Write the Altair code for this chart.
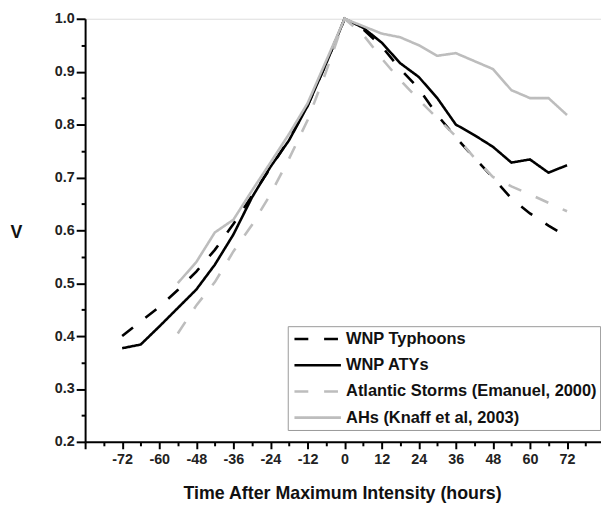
import altair as alt
import pandas as pd

hours = [-72, -66, -60, -54, -48, -42, -36, -30, -24, -18, -12, -6, 0,
         6, 12, 18, 24, 30, 36, 42, 48, 54, 60, 66, 72]

wnp_typhoons = [0.400, 0.428, 0.455, 0.487, 0.522, 0.563, 0.612, 0.665, 0.718, 0.772, 0.835, 0.915, 1.000,
                0.980, 0.948, 0.905, 0.868, 0.818, 0.776, 0.737, 0.700, 0.660, 0.632, 0.609, 0.588]
wnp_atys = [0.377, 0.384, 0.418, 0.453, 0.488, 0.535, 0.592, 0.662, 0.720, 0.770, 0.835, 0.915, 1.000,
            0.983, 0.955, 0.916, 0.890, 0.850, 0.800, 0.780, 0.758, 0.728, 0.734, 0.709, 0.723]
atl_hours = [-54, -48, -42, -36, -30, -24, -18, -12, -6, 0,
             6, 12, 18, 24, 30, 36, 42, 48, 54, 60, 66, 72]
atlantic = [0.405, 0.458, 0.502, 0.560, 0.610, 0.668, 0.735, 0.808, 0.900, 1.000,
            0.970, 0.925, 0.884, 0.847, 0.812, 0.778, 0.737, 0.701, 0.683, 0.668, 0.652, 0.636]
ahs = [0.500, 0.540, 0.596, 0.620, 0.675, 0.728, 0.782, 0.840, 0.920, 1.000,
       0.986, 0.972, 0.965, 0.950, 0.930, 0.935, 0.920, 0.905, 0.865, 0.850, 0.850, 0.818]

names = ["WNP Typhoons", "WNP ATYs", "Atlantic Storms (Emanuel, 2000)", "AHs (Knaff et al, 2003)"]
colors = ["#000000", "#000000", "#bdbdbd", "#bdbdbd"]
dashes = [[14, 16], [1, 0], [14, 16], [1, 0]]

rows = []
for n, xs, ys in [(names[0], hours, wnp_typhoons), (names[1], hours, wnp_atys),
                  (names[2], atl_hours, atlantic), (names[3], atl_hours, ahs)]:
    for h, v in zip(xs, ys):
        rows.append({"series": n, "hour": h, "V": v})
df = pd.DataFrame(rows)

x_major = list(range(-84, 84, 12))
x_minor = list(range(-78, 84, 12))
y_major = [0.2, 0.3, 0.4, 0.5, 0.6, 0.7, 0.8, 0.9, 1.0]
y_minor = [0.25, 0.35, 0.45, 0.55, 0.65, 0.75, 0.85, 0.95]

xscale = alt.Scale(domain=[-84, 83], nice=False, zero=False)
yscale = alt.Scale(domain=[0.2, 1.0], nice=False, zero=False)

lab = dict(labelFont="Liberation Sans", labelFontWeight="bold", labelFontSize=14.5,
           labelColor="#222222", tickColor="black", tickWidth=2, domainColor="black",
           domainWidth=2, grid=False)

lines = alt.Chart(df).mark_line(strokeWidth=2.6).encode(
    x=alt.X("hour:Q", scale=xscale,
            axis=alt.Axis(values=x_major, orient="bottom", tickSize=7, labelPadding=4,
                          labelExpr="abs(datum.value) >= 84 ? '' : '' + datum.value",
                          title="Time After Maximum Intensity (hours)",
                          titleFont="Liberation Sans", titleFontSize=18, titleFontWeight="bold",
                          titleColor="#111111", titleX=260, titleY=57, titleAlign="center",
                          titleBaseline="alphabetic", labelFlush=False, labelOverlap=False, **lab)),
    y=alt.Y("V:Q", scale=yscale,
            axis=alt.Axis(values=y_major, orient="left", tickSize=9, labelPadding=2, format=".1f",
                          title="V", titleAngle=0, titleX=-70, titleY=216, titleAlign="center",
                          titleBaseline="middle", titleFont="Liberation Sans", titleFontSize=18,
                          titleFontWeight="bold", titleColor="#111111", labelOverlap=False, **lab)),
    color=alt.Color("series:N", scale=alt.Scale(domain=names, range=colors),
                    legend=alt.Legend(title=None, orient="none", legendX=205, legendY=311,
                                      symbolType="M-2.765,0H2.765", symbolSize=289,
                                      symbolStrokeWidth=2.6, symbolOffset=17.3,
                                      labelFont="Liberation Sans", labelFontSize=16.6,
                                      labelFontWeight="bold", labelColor="#111111", labelLimit=400,
                                      labelOffset=18.7, rowPadding=7.5, padding=3,
                                      strokeColor="#999999", fillColor="white")),
    strokeDash=alt.StrokeDash("series:N", scale=alt.Scale(domain=names, range=dashes),
                              legend=alt.Legend(title=None)),
    detail="series:N",
)

minor = alt.Chart(df).mark_point(opacity=0, size=1).encode(
    x=alt.X("hour:Q", scale=xscale,
            axis=alt.Axis(values=x_minor, orient="bottom", tickSize=4, labels=False, domain=False,
                          title=None, tickColor="black", tickWidth=2, grid=False)),
    y=alt.Y("V:Q", scale=yscale,
            axis=alt.Axis(values=y_minor, orient="left", tickSize=4, labels=False, domain=False,
                          title=None, tickColor="black", tickWidth=2, grid=False)),
)

chart = alt.layer(lines, minor).resolve_axis(x="independent", y="independent").properties(
    width=521.9, height=428,
    padding={"left": 1, "top": 0, "right": 0, "bottom": 0},
).configure_view(stroke=None).configure(background="white")

chart.save("out.html", embed_options={"renderer": "svg", "actions": False})
